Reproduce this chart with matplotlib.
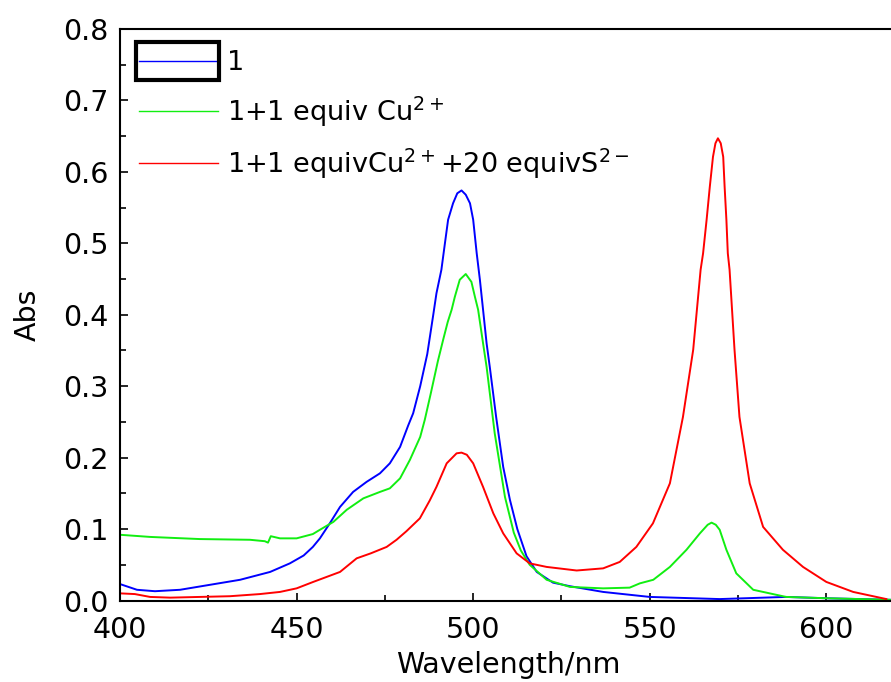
import matplotlib.pyplot as plt
from matplotlib.patches import Rectangle
from matplotlib.ticker import MultipleLocator

plt.rcParams['font.family'] = ['DejaVu Sans']
plt.rcParams['mathtext.fontset'] = 'dejavusans'

# UV-vis absorption spectra (wavelength in nm, absorbance)
wl_1 = [400, 404.8, 409.9, 417, 425.5, 434, 442.5, 448.1, 452, 454.6, 456.6,
        459.4, 462.3, 466, 469.8, 473.6, 476.4, 479.3, 481.6, 483, 485, 487,
        488.7, 489.6, 491, 492, 492.9, 494.3, 495.5, 496.7, 497.9, 499.1, 500,
        501, 501.9, 502.8, 503.8, 504.7, 506.5, 508.5, 510.4, 512.5, 515.1,
        518, 522.6, 527.4, 536.8, 550, 569.8, 588.5, 601, 618]
abs_1 = [0.023, 0.015, 0.013, 0.015, 0.022, 0.029, 0.040, 0.052, 0.063, 0.075,
         0.087, 0.108, 0.131, 0.152, 0.166, 0.178, 0.192, 0.215, 0.245, 0.262,
         0.300, 0.345, 0.400, 0.430, 0.463, 0.500, 0.533, 0.556, 0.570, 0.574,
         0.568, 0.556, 0.533, 0.486, 0.449, 0.407, 0.360, 0.327, 0.257, 0.187,
         0.141, 0.100, 0.062, 0.040, 0.025, 0.020, 0.012, 0.005, 0.002, 0.005,
         0.003, 0.001]

wl_cu = [400, 408.5, 422.6, 436.8, 441, 441.9, 442.7, 445.3, 450, 454.6, 456.6,
         460.4, 464.2, 468.9, 473.6, 476.4, 479.3, 482.1, 485, 486.3, 488, 490,
         491.5, 492.8, 493.9, 494.8, 496.2, 497.9, 499.5, 500.5, 501.4, 502.8,
         503.8, 506.1, 509, 511.5, 513.5, 516, 520.8, 527.4, 536.8, 544.3,
         547.2, 551, 555.7, 560.4, 564.2, 566.4, 567.5, 568.7, 569.8, 571.7,
         574.5, 579.3, 588.6, 601, 618]
abs_cu = [0.092, 0.089, 0.086, 0.085, 0.083, 0.081, 0.090, 0.087, 0.087, 0.093,
          0.099, 0.110, 0.127, 0.143, 0.152, 0.157, 0.171, 0.197, 0.229, 0.253,
          0.290, 0.335, 0.365, 0.390, 0.407, 0.425, 0.449, 0.457, 0.446, 0.425,
          0.407, 0.360, 0.327, 0.234, 0.145, 0.095, 0.070, 0.050, 0.029, 0.019,
          0.017, 0.018, 0.024, 0.029, 0.047, 0.071, 0.094, 0.106, 0.109, 0.106,
          0.099, 0.071, 0.038, 0.015, 0.005, 0.003, 0.001]

wl_s = [400, 404.2, 408.5, 414.2, 422.6, 431.1, 439.6, 445.3, 450, 454.7, 462.3,
        467, 471, 475.5, 478.3, 481.1, 484.9, 487.7, 489.6, 492.5, 495.3,
        496.7, 498.2, 500, 502.8, 505.7, 508.5, 512.3, 516, 520.8, 529.3,
        536.8, 541.5, 546.2, 550.9, 555.7, 559.4, 562.3, 564.4, 565.1, 566.1,
        567, 567.9, 568.6, 569.3, 570.1, 570.8, 571.2, 571.7, 572.1, 572.6,
        574, 575.4, 578.3, 582.1, 587.7, 593.4, 600, 607.6, 617]
abs_s = [0.010, 0.009, 0.005, 0.004, 0.005, 0.006, 0.009, 0.012, 0.017, 0.026,
         0.040, 0.059, 0.066, 0.075, 0.085, 0.097, 0.115, 0.140, 0.159, 0.192,
         0.206, 0.207, 0.204, 0.192, 0.159, 0.122, 0.094, 0.066, 0.052, 0.047,
         0.042, 0.045, 0.054, 0.075, 0.108, 0.164, 0.257, 0.351, 0.463, 0.486,
         0.533, 0.579, 0.621, 0.640, 0.647, 0.640, 0.621, 0.579, 0.533, 0.486,
         0.463, 0.351, 0.257, 0.164, 0.103, 0.071, 0.047, 0.026, 0.012, 0.002]

labels = ['1',
          r'1+1 equiv Cu$^{\mathregular{2+}}$',
          r'1+1 equivCu$^{\mathregular{2+}}$+20 equivS$^{\mathregular{2-}}$']

fig = plt.figure(figsize=(8.91, 6.82), dpi=100)
ax = fig.add_axes([0.1347, 0.1195, 0.872, 0.838])

ax.plot(wl_1, abs_1, color='#0000ff', lw=1.4, label=labels[0])
ax.plot(wl_cu, abs_cu, color='#11ee11', lw=1.4, label=labels[1])
ax.plot(wl_s, abs_s, color='#ff0000', lw=1.4, label=labels[2])

ax.set_xlim(400, 620)
ax.set_ylim(0, 0.8)
ax.xaxis.set_major_locator(MultipleLocator(50))
ax.xaxis.set_minor_locator(MultipleLocator(25))
ax.yaxis.set_major_locator(MultipleLocator(0.1))
ax.yaxis.set_minor_locator(MultipleLocator(0.05))
ax.yaxis.set_major_formatter(plt.FormatStrFormatter('%.1f'))
ax.tick_params(which='both', direction='in', labelsize=20.5, width=1.2)
ax.tick_params(which='major', length=6)
ax.tick_params(which='minor', length=4)
ax.tick_params(axis='x', pad=11)
ax.tick_params(axis='y', pad=8.5)
for s in ax.spines.values():
    s.set_linewidth(1.5)

ax.set_xlabel('Wavelength/nm', fontsize=20.5, labelpad=5)
ax.set_ylabel('Abs', fontsize=20.5, labelpad=15)

leg = ax.legend(loc='upper left', bbox_to_anchor=(0.0245, 0.963),
                frameon=False, fontsize=19.5, handlelength=2.9,
                handletextpad=0.35, labelspacing=0.66,
                borderaxespad=0, borderpad=0)
for h in leg.get_lines():
    h.set_linewidth(1.0)

# selection box around the first legend entry
fig.patches.append(Rectangle((136 / 891, 1 - 80 / 682), 83 / 891, 38 / 682,
                             transform=fig.transFigure, fill=False,
                             edgecolor='black', lw=3))

fig.savefig('out.png', dpi=100)
